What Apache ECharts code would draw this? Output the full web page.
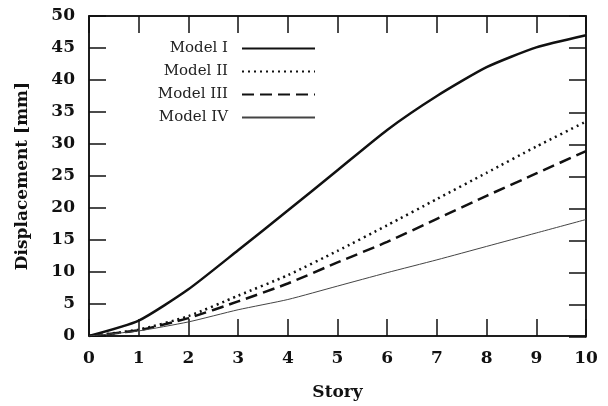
<!DOCTYPE html>
<html>
<head>
<meta charset="utf-8">
<script src="https://cdn.jsdelivr.net/npm/echarts@6/dist/echarts.min.js"></script>
<style>html,body{margin:0;padding:0;background:#fff;}#c{width:608px;height:406px;}</style>
</head>
<body>
<div id="c"></div>
<script>
var stories = [0, 1, 2, 3, 4, 5, 6, 7, 8, 9, 10];
var modelI = [0, 2.4, 7.3, 13.4, 19.6, 25.9, 32.2, 37.5, 42.0, 45.1, 47.0];
var modelII = [0, 1.0, 3.1, 6.3, 9.5, 13.3, 17.3, 21.4, 25.5, 29.6, 33.5];
var modelIII = [0, 0.9, 2.8, 5.4, 8.2, 11.5, 14.7, 18.3, 21.9, 25.4, 28.9];
var modelIV = [0, 0.8, 2.2, 4.1, 5.7, 7.8, 9.9, 11.9, 14.0, 16.1, 18.2];
var seriesNames = ['Model I', 'Model II', 'Model III', 'Model IV'];

function pairs(vals) { return stories.map(function (s, i) { return [s, vals[i]]; }); }

var axisFont = { fontFamily: 'DejaVu Serif', fontWeight: 'bold', fontSize: 17, color: '#111' };
var axisLine = { show: true, lineStyle: { color: '#111', width: 1.5 } };
var tick = { show: true, inside: true, length: 17, lineStyle: { color: '#111', width: 1.5 } };
var tickOut = { show: true, inside: false, length: 17, lineStyle: { color: '#111', width: 1.5 } };

var chart = echarts.init(document.getElementById('c'));
chart.setOption({
  animation: false,
  grid: [
    { left: 89, right: 22, top: 16, bottom: 69, show: true, borderColor: '#111', borderWidth: 1.5, backgroundColor: 'transparent' },
    { left: 89, right: 22, top: 0, height: 16 },
    { left: 586, width: 10, top: 16, bottom: 69 }
  ],
  legend: {
    orient: 'vertical',
    align: 'right',
    right: 287,
    top: 36,
    itemWidth: 73,
    itemHeight: 14,
    itemGap: 8,
    data: seriesNames,
    textStyle: { fontFamily: 'DejaVu Serif', fontSize: 15, color: '#222', padding: [0, 9, 0, 0] }
  },
  xAxis: [{
    gridIndex: 0, type: 'value', min: 0, max: 10, interval: 1, position: 'bottom',
    name: 'Story', nameLocation: 'middle', nameGap: 48,
    nameTextStyle: { fontFamily: 'DejaVu Serif', fontWeight: 'bold', fontSize: 17, color: '#111' },
    axisLine: axisLine, axisTick: tick, splitLine: { show: false },
    axisLabel: Object.assign({ margin: 14 }, axisFont)
  }, {
    gridIndex: 1, type: 'value', min: 0, max: 10, interval: 1, position: 'bottom',
    axisLine: axisLine, axisTick: tickOut, splitLine: { show: false }, axisLabel: { show: false }
  }, {
    gridIndex: 2, type: 'value', min: 0, max: 1, show: false
  }],
  yAxis: [{
    gridIndex: 0, type: 'value', min: 0, max: 50, interval: 5, position: 'left',
    name: 'Displacement [mm]', nameLocation: 'middle', nameGap: 58,
    nameTextStyle: { fontFamily: 'DejaVu Serif', fontWeight: 'bold', fontSize: 17, color: '#111' },
    axisLine: axisLine, axisTick: tick, splitLine: { show: false },
    axisLabel: Object.assign({ margin: 14 }, axisFont)
  }, {
    gridIndex: 1, type: 'value', min: 0, max: 1, show: false
  }, {
    gridIndex: 2, type: 'value', min: 0, max: 50, interval: 5, position: 'left',
    axisLine: axisLine, axisTick: tickOut, splitLine: { show: false }, axisLabel: { show: false }
  }],
  series: [
    { name: 'Model I', type: 'line', data: pairs(modelI), symbol: 'none', smooth: 0.2,
      lineStyle: { color: '#111', width: 2.5, type: 'solid' }, itemStyle: { color: '#111', opacity: 0 } },
    { name: 'Model II', type: 'line', data: pairs(modelII), symbol: 'none', smooth: 0.2,
      lineStyle: { color: '#111', width: 2.5, type: [2, 4] }, itemStyle: { color: '#111', opacity: 0 } },
    { name: 'Model III', type: 'line', data: pairs(modelIII), symbol: 'none', smooth: 0.2,
      lineStyle: { color: '#111', width: 2.5, type: [12, 6] }, itemStyle: { color: '#111', opacity: 0 } },
    { name: 'Model IV', type: 'line', data: pairs(modelIV), symbol: 'none', smooth: 0.2,
      lineStyle: { color: '#444', width: 1, type: 'solid' }, itemStyle: { color: '#444', opacity: 0 } }
  ]
});
</script>
</body>
</html>
